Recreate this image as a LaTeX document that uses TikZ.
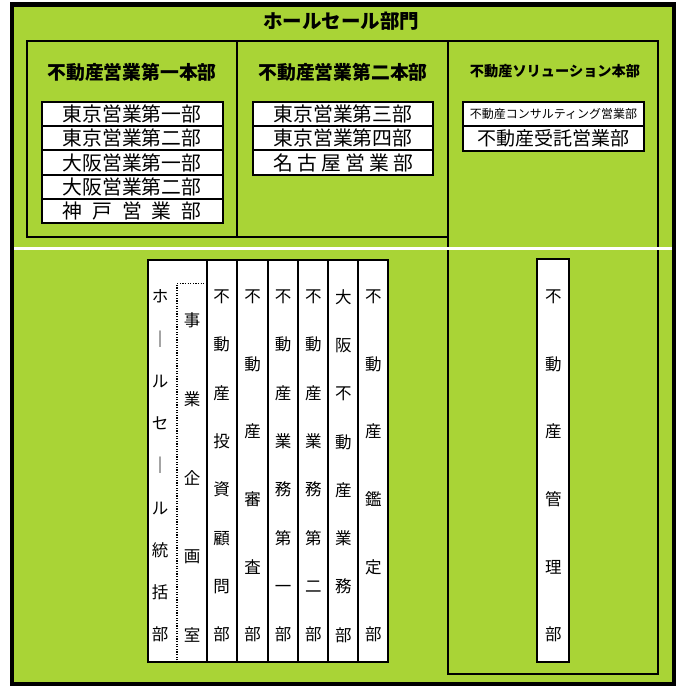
\documentclass[tikz,border=0pt]{standalone}
\usepackage{fontspec}
\setmainfont{Noto Sans CJK JP}
\definecolor{leaf}{RGB}{169,212,54}

\begin{document}
\begin{tikzpicture}[x=1pt,y=-1pt]
\tikzstyle{every node}+=[inner sep=0pt]
\tikzstyle{unit}=[draw=black, line width=2pt, fill=white, minimum width=181pt, minimum height=24.2pt, font=\fontsize{19.8}{22}\selectfont]
\tikzstyle{col}=[draw=black, line width=2pt, fill=white, minimum width=30pt, minimum height=402pt]
\tikzstyle{head}=[font=\bfseries\fontsize{18.8}{22}\selectfont]
\tikzstyle{tate}=[align=center, font=\fontsize{16.5}{48.29}\selectfont]
\useasboundingbox (0,0) rectangle (682,686);
\draw [black, line width=4.5pt, fill=leaf] (12,4.5) rectangle (674,684.5);
\node [font=\bfseries\fontsize{19.5}{22}\selectfont] (bumon) at (341,21) {ホールセール部門};
\draw [black, line width=2pt] (27,41.3) rectangle (447.5,237);
\draw [black, line width=2pt] (237,41.3) -- (237,237);
\draw [black, line width=2pt] (447.5,41.3) rectangle (658,674);
\draw [white, line width=3pt] (14,248.5) -- (672,248.5);
\node [head] (honbu1) at (132,72) {不動産営業第一本部};
\node [head] (honbu2) at (343,72) {不動産営業第二本部};
\node [head, font=\bfseries\fontsize{14.2}{16}\selectfont] (solution) at (555,71) {不動産ソリューション本部};
\node [unit] (tokyo1) at (132,114.1) {東京営業第一部};
\node [unit] (tokyo2) at (132,138.3) {東京営業第二部};
\node [unit] (osaka1) at (132,162.5) {大阪営業第一部};
\node [unit] (osaka2) at (132,186.7) {大阪営業第二部};
\node [unit] (kobe) at (132,210.9) {\makebox[139pt]{神\hfill 戸\hfill 営\hfill 業\hfill 部}};
\node [unit, minimum width=180pt] (tokyo3) at (343,114.1) {東京営業第三部};
\node [unit, minimum width=180pt] (tokyo4) at (343,138.3) {東京営業第四部};
\node [unit, minimum width=180pt] (nagoya) at (343,162.5) {\makebox[140pt]{名\hfill 古\hfill 屋\hfill 営\hfill 業\hfill 部}};
\node [unit, minimum height=24pt, font=\fontsize{12}{14}\selectfont] (consul) at (553.5,114) {不動産コンサルティング営業部};
\node [unit, minimum height=25pt, font=\fontsize{19}{22}\selectfont] (jutaku) at (553.5,138.5) {不動産受託営業部};
\node [col, minimum width=59.2pt] (tokatsu) at (177.1,461) {};
\node [col] (toushi) at (221.7,461) {};
\node [col, minimum width=31pt] (shinsa) at (252.2,461) {};
\node [col, minimum width=30.6pt] (gyomu1) at (283,461) {};
\node [col] (gyomu2) at (313.3,461) {};
\node [col] (osakagyomu) at (343.3,461) {};
\node [col] (kantei) at (373.3,461) {};
\node [col, minimum width=32pt, minimum height=402.7pt] (kanri) at (553.3,460.7) {};
\coordinate (kikaku) at (206.7,283.5);
\draw [black, line width=1.3pt, dash pattern=on 1.3pt off 1.3pt] (tokatsu.south) |- (kikaku);
\node [tate, font=\fontsize{16.5}{42.25}\selectfont] (tokatsut) at (160,466) {ホ\\｜\\ル\\セ\\｜\\ル\\統\\括\\部};
\node [tate, font=\fontsize{16.5}{78.75}\selectfont] (kikakut) at (192,477.5) {事\\業\\企\\画\\室};
\node [tate] (toushit) at (221.7,466) {不\\動\\産\\投\\資\\顧\\問\\部};
\node [tate, font=\fontsize{16.5}{67.6}\selectfont] (shinsat) at (252.7,466) {不\\動\\産\\審\\査\\部};
\node [tate] (gyomu1t) at (283,466) {不\\動\\産\\業\\務\\第\\一\\部};
\node [tate] (gyomu2t) at (313.3,466) {不\\動\\産\\業\\務\\第\\二\\部};
\node [tate] (osakagyomut) at (343.3,466) {大\\阪\\不\\動\\産\\業\\務\\部};
\node [tate, font=\fontsize{16.5}{67.6}\selectfont] (kanteit) at (373.3,466) {不\\動\\産\\鑑\\定\\部};
\node [tate, font=\fontsize{16.5}{67.6}\selectfont] (kanrit) at (553.3,466) {不\\動\\産\\管\\理\\部};
\end{tikzpicture}
\end{document}
